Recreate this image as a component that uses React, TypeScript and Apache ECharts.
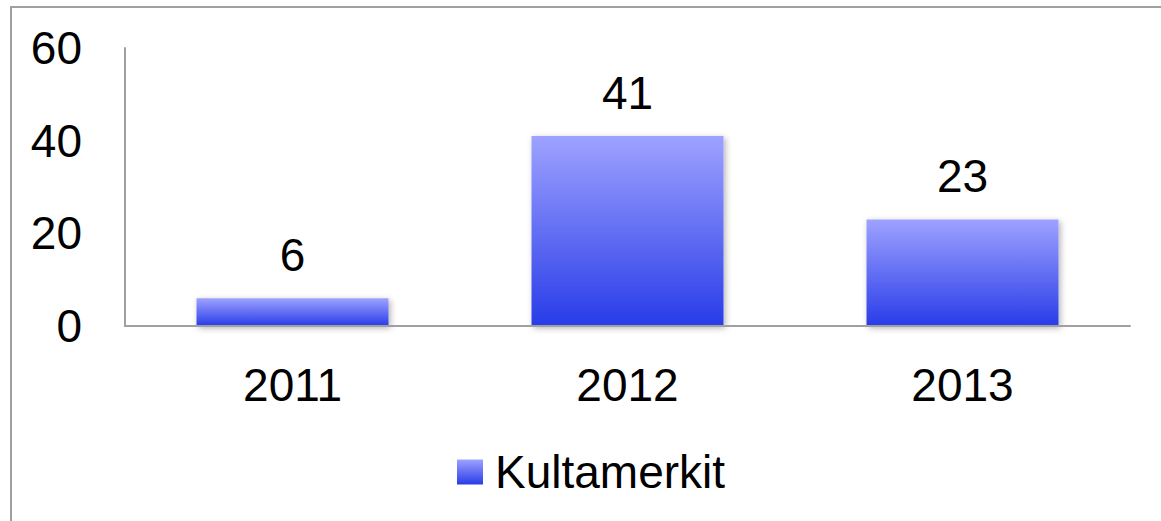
import React, { useEffect, useRef } from "react";
import * as echarts from "echarts";

const categories = ["2011", "2012", "2013"];
const values = [6, 41, 23];
const seriesName = "Kultamerkit";
const yTicks = { min: 0, max: 60, interval: 20 };

const FONT = "'Liberation Sans', Arial, Helvetica, sans-serif";

export default function App() {
  const ref = useRef<HTMLDivElement>(null);
  useEffect(() => {
    if (!ref.current) return;
    const chart = echarts.init(ref.current, null, { renderer: "svg" });
    const grad = new echarts.graphic.LinearGradient(0, 0, 0, 1, [
      { offset: 0, color: "#9ea2ff" },
      { offset: 1, color: "#283ce8" },
    ]);
    chart.setOption({
      animation: false,
      backgroundColor: "#ffffff",
      textStyle: { fontFamily: FONT },
      grid: { left: 125, right: 31, top: 48, bottom: 195 },
      graphic: [
        { type: "line", shape: { x1: 10, y1: 7, x2: 1161, y2: 7 }, style: { stroke: "#a0a0a0", lineWidth: 2 } },
        { type: "line", shape: { x1: 11, y1: 6, x2: 11, y2: 521 }, style: { stroke: "#a0a0a0", lineWidth: 2 } },
      ],
      legend: {
        show: true,
        left: 457,
        top: 449,
        padding: 0,
        itemWidth: 26,
        itemHeight: 25,
        itemGap: 10,
        icon: "rect",
        textStyle: { fontSize: 46, color: "#000", fontFamily: FONT, padding: [0, 0, 0, 7] },
        data: [seriesName],
      },
      xAxis: {
        type: "category",
        data: categories,
        axisTick: { show: false },
        axisLine: {
          show: true,
          onZero: false,
          lineStyle: { color: "#a0a0a0", width: 2 },
        },
        axisLabel: { fontSize: 46, color: "#000", fontFamily: FONT, margin: 36 },
        z: 5,
      },
      yAxis: {
        type: "value",
        min: yTicks.min,
        max: yTicks.max,
        interval: yTicks.interval,
        splitLine: { show: false },
        axisTick: { show: false },
        axisLine: { show: true, lineStyle: { color: "#a0a0a0", width: 2 } },
        axisLabel: { fontSize: 46, color: "#000", fontFamily: FONT, margin: 43, padding: [4, 0, 0, 0] },
      },
      series: [
        {
          name: seriesName,
          type: "bar",
          data: values,
          barWidth: "57.3%",
          itemStyle: {
            color: grad,
            shadowColor: "rgba(0,0,0,0.3)",
            shadowBlur: 6,
            shadowOffsetX: 2,
            shadowOffsetY: 2,
          },
          label: {
            show: true,
            position: "top",
            distance: 20,
            fontSize: 46,
            color: "#000",
            fontFamily: FONT,
          },
        },
      ],
    });
    return () => chart.dispose();
  }, []);
  return (
    <div
      ref={ref}
      style={{ position: "fixed", left: 0, top: 0, width: 1161, height: 521 }}
    />
  );
}
